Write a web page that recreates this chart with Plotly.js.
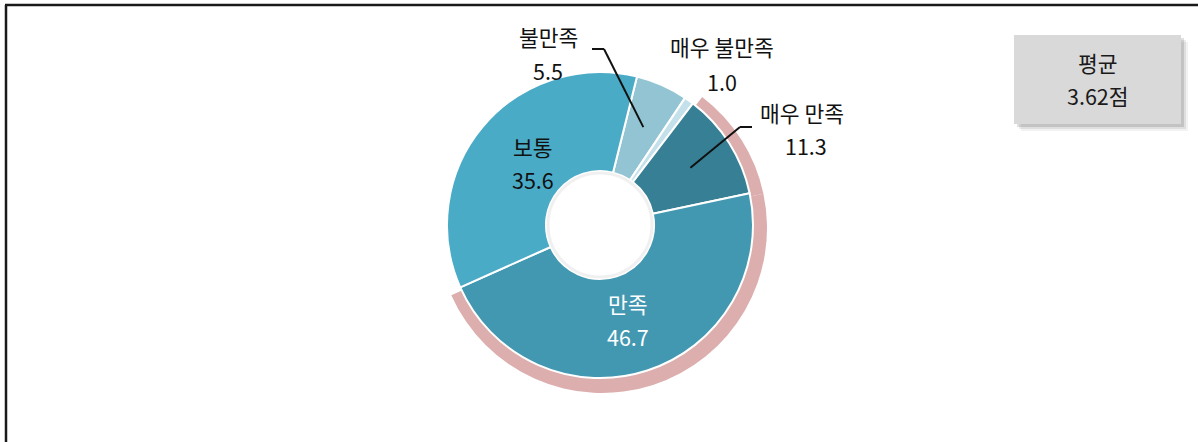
<!DOCTYPE html>
<html><head><meta charset="utf-8">
<script src="https://cdn.plot.ly/plotly-3.0.1.min.js"></script>
<style>html,body{margin:0;padding:0;background:#fff;}#chart{width:1198px;height:442px;}</style>
</head><body><div id="chart"></div>
<script>
// ---- data ----
const categories = ['불만족', '매우 불만족', '매우 만족', '만족', '보통'];
const values = [5.5, 1.0, 11.3, 46.7, 35.6];
const highlighted = [false, false, true, true, false];
const avgLabel = '평균';
const avgScore = 3.62;

// ---- styles / layout ----
const W = 1198, H = 442;
const colors = ['#93c4d4', '#c4e0ea', '#367f94', '#4398b1', '#4aabc7'];
const pink = '#ddaeae';
const font = "'Noto Sans CJK KR', 'Noto Sans', sans-serif";
const FS = 21.5;
const cx = 600, cy = 225, R = 153, holeR = 54;
const rotation = 14;
const px = x => x / W, py = y => 1 - y / H;

const total = values.reduce((a, b) => a + b, 0);
let acc = 0;
const mids = values.map(v => { const m = rotation + (acc + v / 2) / total * 360; acc += v; return m; });
const polar = (ang, r) => [cx + r * Math.sin(ang * Math.PI / 180), cy - r * Math.cos(ang * Math.PI / 180)];

// shifted, bigger pink ring behind
const pR = 165, pcx = 602, pcy = 228;
const pinkTrace = {
  type: 'pie', values: values, labels: categories, sort: false, direction: 'clockwise', rotation: rotation,
  hole: 0.8, textinfo: 'none', hoverinfo: 'skip', showlegend: false,
  marker: { colors: highlighted.map(h => h ? pink : 'rgba(0,0,0,0)'), line: { width: 0 } },
  domain: { x: [px(pcx - pR), px(pcx + pR)], y: [py(pcy + pR), py(pcy - pR)] }
};
const mainTrace = {
  type: 'pie', values: values, labels: categories, sort: false, direction: 'clockwise', rotation: rotation,
  hole: holeR / R, textinfo: 'none', hoverinfo: 'skip', showlegend: false,
  marker: { colors: colors, line: { color: '#ffffff', width: 2 } },
  domain: { x: [px(cx - R), px(cx + R)], y: [py(cy + R), py(cy - R)] }
};

const annotations = [];
const shapes = [];
function txt(x, y, t, color, size) {
  annotations.push({ xref: 'paper', yref: 'paper', x: px(x), y: py(y), text: t, showarrow: false,
    xanchor: 'center', yanchor: 'middle', font: { family: font, size: size || FS, color: color || '#111111' } });
}
// inside labels (보통, 만족)
const insideIdx = [3, 4];
insideIdx.forEach(i => {
  const [x, y] = polar(mids[i], i === 4 ? 95 : 100);
  const c = i === 3 ? '#ffffff' : '#111111';
  txt(x + (i === 4 ? 6 : -3), y - 17, categories[i], c);
  txt(x + (i === 4 ? 6 : -3), y + 16, values[i].toFixed(1), c);
});
// outside labels
const outside = { 0: [548, 36], 1: [722, 47], 2: [802, 112] };
Object.keys(outside).forEach(k => {
  const i = +k; const [x, y] = outside[k];
  txt(x, y, categories[i]);
  txt(x + (i === 2 ? 4 : 0), y + 34, values[i].toFixed(1));
});
// leader lines
function leader(i, elbow, end) {
  const [x, y] = polar(mids[i], 107);
  const l = { color: '#111', width: 2 };
  shapes.push({ type: 'line', xref: 'paper', yref: 'paper', x0: px(x), y0: py(y), x1: px(elbow[0]), y1: py(elbow[1]), line: l });
  shapes.push({ type: 'line', xref: 'paper', yref: 'paper', x0: px(elbow[0]), y0: py(elbow[1]), x1: px(end[0]), y1: py(end[1]), line: l });
}
leader(0, [604, 49], [592, 49]);
leader(2, [740, 127], [752, 127]);

// hole inner rim shadow
shapes.push({ type: 'circle', xref: 'paper', yref: 'paper', x0: px(cx - holeR + 2), x1: px(cx + holeR - 2), y0: py(cy + holeR - 2), y1: py(cy - holeR + 2), line: { color: 'rgba(0,0,0,0.06)', width: 3 }, layer: 'above' });

// average box with soft shadow
const bx0 = 1014, bx1 = 1181, by0 = 35, by1 = 124;
[[7, 0.05], [5, 0.08], [3, 0.12]].forEach(([o, a]) => {
  shapes.push({ type: 'rect', xref: 'paper', yref: 'paper', x0: px(bx0 + o), x1: px(bx1 + o), y0: py(by1 + o), y1: py(by0 + o), fillcolor: 'rgba(0,0,0,' + a + ')', line: { width: 0 }, layer: 'below' });
});
shapes.push({ type: 'rect', xref: 'paper', yref: 'paper', x0: px(bx0), x1: px(bx1), y0: py(by1), y1: py(by0), fillcolor: '#d9d9d9', line: { width: 0 }, layer: 'below' });
txt((bx0 + bx1) / 2, 63, avgLabel, '#1a1a1a');
txt((bx0 + bx1) / 2, 95, avgScore.toFixed(2) + '점', '#1a1a1a');

// frame (top and left edges)
shapes.push({ type: 'line', xref: 'paper', yref: 'paper', x0: px(5), y0: py(5), x1: px(W + 5), y1: py(5), line: { color: '#1a1a1a', width: 2.5 } });
shapes.push({ type: 'line', xref: 'paper', yref: 'paper', x0: px(6), y0: py(5), x1: px(6), y1: py(H + 5), line: { color: '#1a1a1a', width: 2.5 } });

Plotly.newPlot('chart', [pinkTrace, mainTrace], {
  width: W, height: H, margin: { l: 0, r: 0, t: 0, b: 0 },
  paper_bgcolor: '#ffffff', plot_bgcolor: '#ffffff',
  showlegend: false, annotations: annotations, shapes: shapes
}, { staticPlot: true });
</script></body></html>
